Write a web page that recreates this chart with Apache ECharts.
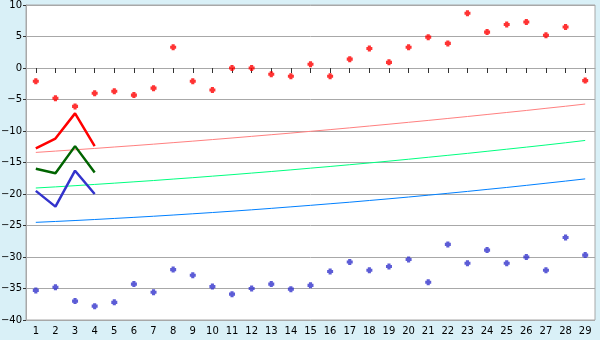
<!DOCTYPE html>
<html><head><meta charset="utf-8">
<script src="https://cdn.jsdelivr.net/npm/echarts@6/dist/echarts.min.js"></script>
<style>html,body{margin:0;padding:0;background:#d9f0f7;}#c{width:600px;height:340px;}</style>
</head><body><div id="c"></div>
<script>
const categories = ['1','2','3','4','5','6','7','8','9','10','11','12','13','14','15','16','17','18','19','20','21','22','23','24','25','26','27','28','29'];
const yTicks = [10,5,0,-5,-10,-15,-20,-25,-30,-35,-40];
const redPoints = [-2.1,-4.8,-6.1,-4.0,-3.7,-4.3,-3.2,3.3,-2.1,-3.5,0.0,0.0,-1.0,-1.3,0.6,-1.3,1.4,3.1,0.9,3.3,4.9,3.9,8.7,5.7,6.9,7.3,5.2,6.5,-2.0];
const bluePoints = [-35.3,-34.8,-37.0,-37.8,-37.2,-34.3,-35.6,-32.0,-32.9,-34.7,-35.9,-35.0,-34.3,-35.1,-34.5,-32.3,-30.8,-32.1,-31.5,-30.4,-34.0,-28.0,-31.0,-28.9,-31.0,-30.0,-32.1,-26.9,-29.7];
const redTrend = [-13.40,-13.19,-12.98,-12.77,-12.54,-12.32,-12.09,-11.85,-11.61,-11.36,-11.11,-10.85,-10.59,-10.33,-10.05,-9.78,-9.50,-9.21,-8.92,-8.62,-8.32,-8.01,-7.70,-7.38,-7.06,-6.74,-6.40,-6.07,-5.72];
const greenTrend = [-19.05,-18.87,-18.68,-18.48,-18.28,-18.07,-17.86,-17.63,-17.41,-17.17,-16.93,-16.68,-16.43,-16.17,-15.90,-15.63,-15.35,-15.07,-14.78,-14.48,-14.17,-13.86,-13.55,-13.22,-12.89,-12.56,-12.22,-11.87,-11.50];
const blueTrend = [-24.50,-24.36,-24.21,-24.05,-23.88,-23.71,-23.53,-23.34,-23.14,-22.94,-22.73,-22.51,-22.28,-22.04,-21.80,-21.55,-21.30,-21.03,-20.76,-20.48,-20.19,-19.89,-19.59,-19.27,-18.96,-18.63,-18.29,-17.95,-17.60];
const redShort = [-12.75,-11.2,-7.2,-12.4];
const greenShort = [-16.0,-16.7,-12.4,-16.6];
const blueShort = [-19.5,-22.0,-16.3,-20.0];

const marker = 'path://M1.2,0H3.8V1.2H5V3.8H3.8V5H1.2V3.8H0V1.2H1.2Z';
const chart = echarts.init(document.getElementById('c'), null, {renderer:'canvas'});
function lineS(data, color, width, z){
  return {type:'line', data:data, symbol:'none', lineStyle:{color:color,width:width}, itemStyle:{color:color}, z:z, animation:false, silent:true};
}
function dotS(data, color){
  return {type:'scatter', data:data, symbol:marker, symbolSize:6, itemStyle:{color:color}, z:5, animation:false, silent:true};
}
chart.setOption({
  backgroundColor:'#d9f0f7',
  animation:false,
  textStyle:{fontFamily:'DejaVu Sans'},
  grid:{left:26,right:5,top:5,bottom:20,containLabel:false,outerBoundsMode:'none',show:true,backgroundColor:'#ffffff',borderColor:'#a8a8a8',borderWidth:1},
  xAxis:{type:'category',data:categories,boundaryGap:true,
    axisLine:{lineStyle:{color:'#a8a8a8'}},
    axisTick:{show:true,alignWithLabel:true,length:5,lineStyle:{color:'#333'}},
    axisLabel:{color:'#000',fontSize:10,fontFamily:'DejaVu Sans',margin:6,interval:0},
    splitLine:{show:false}},
  yAxis:{type:'value',min:-40,max:10,interval:5,
    axisLine:{show:true,lineStyle:{color:'#a8a8a8'}},
    axisTick:{show:true,length:3,lineStyle:{color:'#333'}},
    axisLabel:{color:'#000',fontSize:10,fontFamily:'DejaVu Sans',margin:4,
      formatter:function(v){return String(v).replace('-','\u2212');}},
    splitLine:{show:true,lineStyle:{color:'#a8a8a8',width:1}}},
  series:[
    lineS(redTrend,'#ff8080',1,2),
    lineS(greenTrend,'#00ff80',1,2),
    lineS(blueTrend,'#0080ff',1,2),
    lineS(redShort,'#ff0000',2.5,3),
    lineS(greenShort,'#006400',2.5,3),
    lineS(blueShort,'#3333cc',2.5,3),
    dotS(redPoints,'#ff0000'),
    dotS(bluePoints,'#3333cc')
  ]
});
</script></body></html>
